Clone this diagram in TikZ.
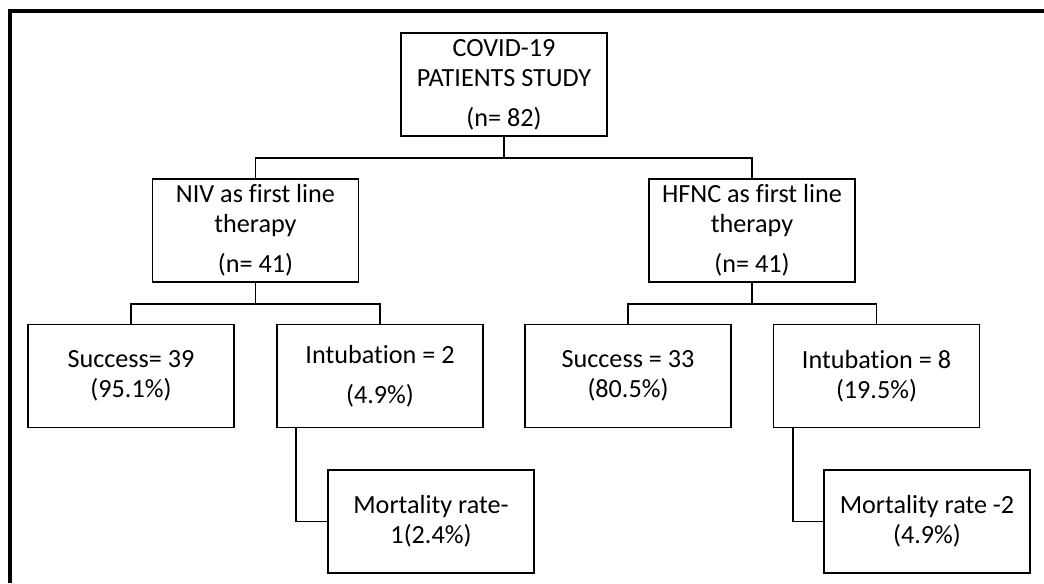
\documentclass[tikz,border=0pt]{standalone}
\usepackage{fontspec}
\setmainfont{Carlito}[Ligatures=NoCommon]

\begin{document}
\begin{tikzpicture}[
  box/.style={draw, line width=1.1pt, minimum width=4.12cm, minimum height=2.06cm,
    align=center, inner sep=2pt, font=\fontsize{14.9}{17}\selectfont},
  link/.style={line width=1.1pt}]
  \useasboundingbox (0,0) rectangle (20.88,11.66);
  % frame
  \draw[line width=2.3pt] (0.2,0) -- (0.2,11.44) -- (20.88,11.44);

  \node[box] (study) at (10.08, 9.97) {COVID-19\\PATIENTS STUDY\\[5.7pt](n= 82)};

  \node[box] (niv) at (5.11, 7.05) {NIV as first line\\therapy\\[5.7pt](n= 41)};
  \node[box] (hfnc) at (15.04, 7.05) {HFNC as first line\\therapy\\[5.7pt](n= 41)};

  \node[box] (succA) at (2.62, 4.14) {Success= 39\\(95.1\%)};
  \node[box] (intubA) at (7.60, 4.14) {Intubation = 2\\[5.7pt](4.9\%)};
  \node[box] (succB) at (12.56, 4.14) {Success = 33\\(80.5\%)};
  \node[box] (intubB) at (17.53, 4.14) {Intubation = 8\\(19.5\%)};

  \node[box] (mortA) at (8.62, 1.23) {Mortality rate-\\1(2.4\%)};
  \node[box] (mortB) at (18.54, 1.23) {Mortality rate -2\\(4.9\%)};

  % connectors
  \draw[link] (study.south) -- ++(0,-0.42) -| (niv.north);
  \draw[link] (study.south) -- ++(0,-0.42) -| (hfnc.north);
  \draw[link] (niv.south) -- ++(0,-0.42) -| (succA.north);
  \draw[link] (niv.south) -- ++(0,-0.42) -| (intubA.north);
  \draw[link] (hfnc.south) -- ++(0,-0.42) -| (succB.north);
  \draw[link] (hfnc.south) -- ++(0,-0.42) -| (intubB.north);
  \draw[link] ([xshift=0.4cm]intubA.south west) |- (mortA.west);
  \draw[link] ([xshift=0.4cm]intubB.south west) |- (mortB.west);
\end{tikzpicture}
\end{document}
